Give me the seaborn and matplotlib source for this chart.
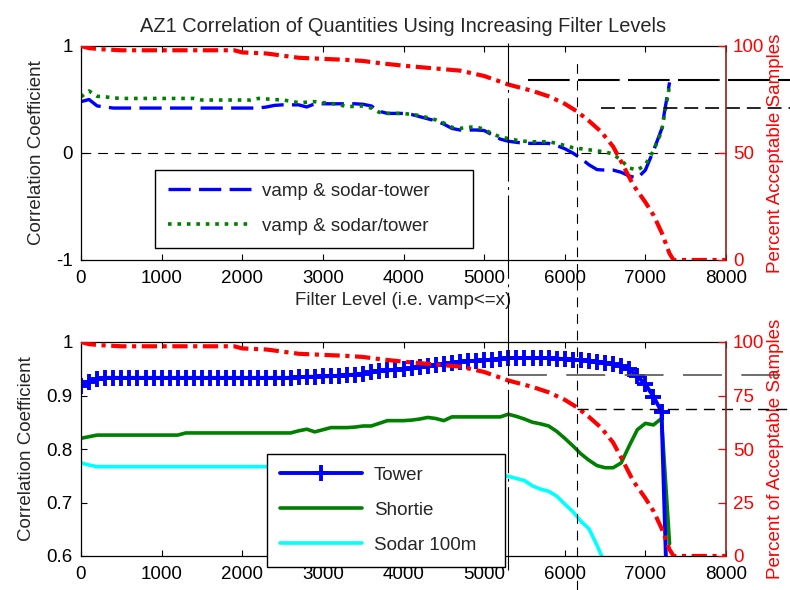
import numpy as np
import pandas as pd
import seaborn as sns
import matplotlib
matplotlib.use("Agg")
import matplotlib.pyplot as plt
from matplotlib.lines import Line2D
import matplotlib.transforms as mtransforms

# ---------------- data ----------------
filter_levels = list(range(0, 7400, 100))

sodar_minus_tower = [
    .48, .50, .44, .43, .42, .42, .42, .42, .42, .42,
    .42, .42, .42, .42, .42, .42, .42, .42, .42, .42,
    .42, .42, .42, .43, .445, .45, .45, .45, .43, .46,
    .46, .46, .46, .46, .46, .455, .44, .39, .37, .37,
    .37, .36, .34, .32, .30, .27, .23, .215, .215, .215,
    .21, .17, .13, .11, .10, .09, .09, .09, .09, .07,
    .04, .00, -.05, -.11, -.155, -.16, -.16, -.18, -.215, -.235,
    -.16, .02, .22, .66]

sodar_over_tower = [
    .525, .58, .53, .525, .515, .51, .51, .51, .51, .51,
    .51, .51, .51, .51, .51, .495, .495, .495, .495, .495,
    .495, .495, .51, .505, .50, .495, .485, .47, .475, .48,
    .47, .465, .45, .435, .435, .44, .42, .38, .37, .37,
    .37, .36, .35, .33, .31, .28, .24, .23, .24, .245,
    .22, .18, .15, .135, .12, .11, .105, .105, .105, .09,
    .07, .05, .04, .03, .02, .01, -.01, -.07, -.14, -.16,
    -.11, .02, .20, .63]

tower = [
    .918, .926, .931, .933, .933, .933, .933, .933, .933, .933,
    .933, .933, .933, .933, .933, .933, .933, .933, .933, .933,
    .933, .933, .933, .933, .933, .933, .933, .934, .935, .935,
    .936, .936, .937, .938, .939, .941, .944, .946, .947, .948,
    .949, .951, .953, .955, .957, .959, .961, .963, .964, .965,
    .966, .967, .969, .970, .970, .970, .970, .970, .970, .969,
    .968, .967, .966, .965, .963, .961, .959, .956, .949, .936,
    .921, .898, .870, .370]

shortie = [
    .820, .823, .826, .826, .826, .826, .826, .826, .826, .826,
    .826, .826, .826, .830, .830, .830, .830, .830, .830, .830,
    .830, .830, .830, .830, .830, .830, .830, .834, .837, .832,
    .836, .840, .840, .840, .841, .843, .843, .848, .853, .853,
    .853, .854, .856, .859, .857, .853, .860, .860, .860, .860,
    .860, .860, .860, .865, .861, .856, .850, .847, .843, .833,
    .820, .806, .791, .779, .769, .765, .765, .774, .806, .836,
    .848, .845, .857, .623]

sodar_levels = list(range(0, 6600, 100))
sodar_100m = [
    .774, .770, .767, .767, .767, .767, .767, .767, .767, .767,
    .767, .767, .767, .767, .767, .767, .767, .767, .767, .767,
    .767, .767, .767, .767, .767, .767, .767, .767, .767, .767,
    .767, .767, .767, .767, .767, .767, .767, .767, .767, .767,
    .766, .765, .764, .763, .762, .761, .760, .759, .758, .757,
    .755, .753, .751, .749, .745, .741, .731, .725, .721, .712,
    .697, .683, .665, .651, .620, .585]

pct_levels = [0, 100, 250, 500, 1000, 1500, 1900, 2000, 2300, 2500, 2700,
              3000, 3300, 3500, 3700, 4000, 4300, 4700, 5000, 5300, 5600,
              5800, 6000, 6150, 6300, 6450, 6600, 6700, 6850, 7000, 7100,
              7200, 7300, 7350, 8000]
pct_accept = [100, 99, 98.5, 98, 98, 98, 98, 97, 96.5, 95.5, 94.5,
              94, 93.5, 93, 92, 90.8, 89.8, 88.5, 86, 82, 79,
              76.5, 73, 69.5, 65, 60, 53, 46, 35, 27, 21,
              13, 3, 0, 0]

# reference guide lines (filter level / percent values)
guide_x_dashdot = 5300
guide_x_dashed = 6150
top_guides = [(5550, 84.0, "long"), (6450, 71.0, "short")]
bottom_guides = [(5300, 84.5, "long"), (6150, 68.7, "short")]

title = "AZ1 Correlation of Quantities Using Increasing Filter Levels"

# ---------------- style ----------------
sns.set_theme(style="white")
plt.rcParams['font.family'] = ['Liberation Sans', 'DejaVu Sans']
plt.rcParams['axes.edgecolor'] = 'black'
plt.rcParams['axes.linewidth'] = 0.9
plt.rcParams['lines.scale_dashes'] = False

FS = 13.5
fig = plt.figure(figsize=(7.9, 5.9), dpi=100)
ax1 = fig.add_axes([81/790, 1-260/590, 645/790, 214/590])
ax2 = fig.add_axes([81/790, 1-556/590, 645/790, 214/590])
ax1r = ax1.twinx()
ax2r = ax2.twinx()

leg_kw = dict(mode='expand', fontsize=FS, handlelength=4.4, frameon=True,
              fancybox=False, edgecolor='black', framealpha=1,
              borderpad=0.7, labelspacing=0.95, handletextpad=0.6,
              borderaxespad=0.0)

# ---- top panel ----
df_top = pd.DataFrame({"level": filter_levels,
                       "minus": sodar_minus_tower,
                       "over": sodar_over_tower})
ax1.axhline(0, color='black', lw=0.8, ls=(0, (7, 5)), zorder=1)
sns.lineplot(data=df_top, x="level", y="minus", ax=ax1, color='#0000FF',
             lw=2.4, linestyle=(0, (16, 6)), label="vamp & sodar-tower")
sns.lineplot(data=df_top, x="level", y="over", ax=ax1, color='#008000',
             lw=2.6, linestyle=(0, (2.6, 4.2)), label="vamp & sodar/tower")
sns.lineplot(x=pct_levels, y=pct_accept, ax=ax1r, color='#FF0000', lw=3,
             linestyle=(0, (11, 4, 3, 4)))

ax1.set_xlim(0, 8000)
ax1.set_ylim(-1, 1)
ax1r.set_ylim(0, 100)
ax1.set_yticks([-1, 0, 1])
ax1.set_yticklabels(["-1", "0", "1"])
ax1r.set_yticks([0, 50, 100])
ax1.set_xticks(range(0, 8001, 1000))
ax1.set_xlabel("Filter Level (i.e. vamp<=x)", fontsize=FS, labelpad=3)
ax1.set_ylabel("Correlation Coefficient", fontsize=FS, labelpad=8)
ax1r.set_ylabel("Percent Acceptable Samples", fontsize=FS, color='#FF0000', labelpad=2)
ax1.set_title(title, fontsize=14.4, pad=10)

leg1 = ax1.legend(loc='lower left', bbox_to_anchor=(0.115, 0.056, 0.493, 0.369),
                  **leg_kw)
leg1.get_frame().set_linewidth(1.0)

for (x0, p, kind) in top_guides:
    if kind == "long":
        ax1r.plot([x0, 8800], [p, p], color='black', lw=1.5, ls=(0, (30, 6)),
                  clip_on=False)
    else:
        ax1r.plot([x0, 8800], [p, p], color='black', lw=1.2, ls=(0, (10, 5)),
                  clip_on=False)

# ---- bottom panel ----
df_bot = pd.DataFrame({"level": filter_levels, "tower": tower, "shortie": shortie})
df_sod = pd.DataFrame({"level": sodar_levels, "sodar": sodar_100m})
sns.lineplot(data=df_sod, x="level", y="sodar", ax=ax2, color='#00FFFF', lw=2.6,
             label="Sodar 100m")
sns.lineplot(data=df_bot, x="level", y="shortie", ax=ax2, color='#008000', lw=2.6,
             label="Shortie")
sns.lineplot(data=df_bot, x="level", y="tower", ax=ax2, color='#0000FF', lw=2.8,
             marker='+', markersize=11.5, markeredgewidth=2.8,
             markeredgecolor='#0000FF', markerfacecolor='#0000FF', label="Tower")
sns.lineplot(x=pct_levels, y=pct_accept, ax=ax2r, color='#FF0000', lw=3,
             linestyle=(0, (11, 4, 3, 4)))

ax2.set_xlim(0, 8000)
ax2.set_ylim(0.6, 1.0)
ax2r.set_ylim(0, 100)
ax2.set_yticks([0.6, 0.7, 0.8, 0.9, 1.0])
ax2.set_yticklabels(["0.6", "0.7", "0.8", "0.9", "1"])
ax2r.set_yticks([0, 25, 50, 75, 100])
ax2.set_xticks(range(0, 8001, 1000))
ax2.set_xlabel("")
ax2.set_ylabel("Correlation Coefficient", fontsize=FS, labelpad=8)
ax2r.set_ylabel("Percent of Acceptable Samples", fontsize=FS, color='#FF0000', labelpad=2)

h, l = ax2.get_legend_handles_labels()
order = [l.index("Tower"), l.index("Shortie"), l.index("Sodar 100m")]
leg2 = ax2.legend([h[i] for i in order], [l[i] for i in order],
                  loc='lower left', bbox_to_anchor=(0.288, -0.051, 0.369, 0.523),
                  **leg_kw)
leg2.get_frame().set_linewidth(1.0)
leg2.set_zorder(10)

for (x0, p, kind) in bottom_guides:
    if kind == "long":
        ax2r.plot([x0, 8800], [p, p], color='#555555', lw=1.2, ls=(0, (28, 14)),
                  clip_on=False, zorder=0.5)
    else:
        ax2r.plot([x0, 8800], [p, p], color='black', lw=1.0, ls=(0, (8, 5)),
                  clip_on=False)

# ---- axes cosmetics ----
for ax in (ax1, ax2):
    ax.tick_params(axis='both', which='both', direction='in', length=4, width=0.8,
                   labelsize=FS, colors='black', pad=6,
                   bottom=True, top=True, left=True, right=False)
    ax.tick_params(axis='x', pad=7.5)
    ax.spines['right'].set_visible(False)
    for s in ('top', 'bottom', 'left'):
        ax.spines[s].set_color('black')
        ax.spines[s].set_linewidth(0.9)
    ax.set_facecolor('white')

for axr in (ax1r, ax2r):
    axr.set_xlim(0, 8000)
    axr.tick_params(axis='y', direction='in', length=6, width=0.9, labelsize=FS,
                    colors='#FF0000', pad=5, right=True, left=False)
    for lbl in axr.get_yticklabels():
        lbl.set_color('#FF0000')
    for s in ('top', 'bottom', 'left'):
        axr.spines[s].set_visible(False)
    axr.spines['right'].set_color('#9B1B1B')
    axr.spines['right'].set_linewidth(1.2)
    axr.set_xlabel("")

# ---- vertical guide lines across both panels ----
blend = mtransforms.blended_transform_factory(ax2.transData, fig.transFigure)
fig.add_artist(Line2D([guide_x_dashdot, guide_x_dashdot], [1-570/590, 1-43/590],
                      transform=blend, color='black', lw=0.8,
                      ls=(0, (60, 4, 2, 4))))
fig.add_artist(Line2D([guide_x_dashed, guide_x_dashed], [0, 1-58/590],
                      transform=blend, color='black', lw=0.8, ls=(0, (7, 5))))

fig.savefig("out.png", dpi=100, facecolor='white')
